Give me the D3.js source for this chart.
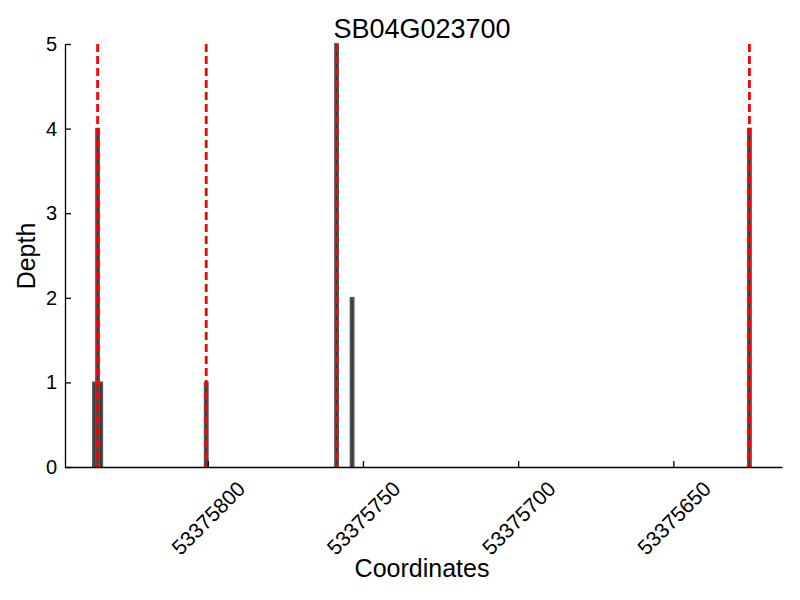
<!DOCTYPE html>
<html lang="en">
<head>
<meta charset="UTF-8">
<title>SB04G023700</title>
<script src="https://d3js.org/d3.v7.min.js"></script>
<style>
    body { margin: 0; background: #fff; }
    text { font-family: "Liberation Sans", Arial, sans-serif; fill: #000; }
    .axis path, .axis line { stroke: #000; stroke-width: 1.3px; }
</style>
</head>
<body>
<svg id="chart"></svg>
<script>
    // data
    var positions = [53375836, 53375835, 53375834, 53375800, 53375758, 53375753, 53375625];
    var depths = [1, 4, 1, 1, 5, 2, 4];
    var markers = [53375835.5, 53375800.5, 53375758.5, 53375625.5];
    var xTicks = [53375800, 53375750, 53375700, 53375650];
    var yTicks = [0, 1, 2, 3, 4, 5];
    var xDomain = [53375846, 53375615];

    var width = 800, height = 600;
    var margin = { top: 44, right: 18, bottom: 133, left: 65 };

    var svg = d3.select("#chart")
        .attr("width", width)
        .attr("height", height);

    var x = d3.scaleLinear()
        .domain(xDomain)
        .range([margin.left, width - margin.right]);

    var y = d3.scaleLinear()
        .domain([0, 5])
        .range([height - margin.bottom, margin.top]);

    // bars, one unit wide each
    svg.selectAll("rect.bar")
        .data(positions)
        .enter().append("rect")
        .attr("class", "bar")
        .attr("x", function(d) { return x(d + 1); })
        .attr("width", function(d) { return x(d) - x(d + 1); })
        .attr("y", function(d, i) { return y(depths[i]); })
        .attr("height", function(d, i) { return y(0) - y(depths[i]); })
        .attr("fill", "#333")
        .attr("stroke", "#555")
        .attr("stroke-width", 1.8);

    // red dashed markers
    svg.selectAll("line.marker")
        .data(markers)
        .enter().append("line")
        .attr("class", "marker")
        .attr("x1", function(d) { return x(d); })
        .attr("x2", function(d) { return x(d); })
        .attr("y1", y(5))
        .attr("y2", y(0))
        .attr("stroke", "red")
        .attr("stroke-width", 2.8)
        .attr("stroke-dasharray", "8,4");

    // axes (ticks point inward)
    var xAxis = svg.append("g")
        .attr("class", "axis")
        .attr("transform", "translate(0," + y(0) + ")")
        .call(d3.axisBottom(x).tickValues(xTicks).tickSizeInner(-6).tickSizeOuter(0)
            .tickFormat(d3.format("d")));
    xAxis.selectAll("text")
        .attr("text-anchor", "middle")
        .attr("dy", null)
        .attr("y", 0)
        .attr("transform", "translate(0,51) rotate(-45)")
        .attr("dominant-baseline", "central")
        .style("font-size", "21px")
        .style("font-family", "Liberation Sans, Arial, sans-serif");

    var yAxis = svg.append("g")
        .attr("class", "axis")
        .attr("transform", "translate(" + margin.left + ",0)")
        .call(d3.axisLeft(y).tickValues(yTicks).tickSizeInner(-6).tickSizeOuter(0)
            .tickPadding(8).tickFormat(d3.format("d")));
    yAxis.selectAll("text")
        .style("font-size", "20px")
        .style("font-family", "Liberation Sans, Arial, sans-serif");

    // titles
    svg.append("text")
        .attr("x", 422)
        .attr("y", 38)
        .attr("text-anchor", "middle")
        .style("font-size", "27px")
        .text("SB04G023700");

    svg.append("text")
        .attr("x", 422)
        .attr("y", 577)
        .attr("text-anchor", "middle")
        .style("font-size", "25px")
        .text("Coordinates");

    svg.append("text")
        .attr("transform", "translate(35,256) rotate(-90)")
        .attr("text-anchor", "middle")
        .style("font-size", "25px")
        .text("Depth");
</script>
</body>
</html>
